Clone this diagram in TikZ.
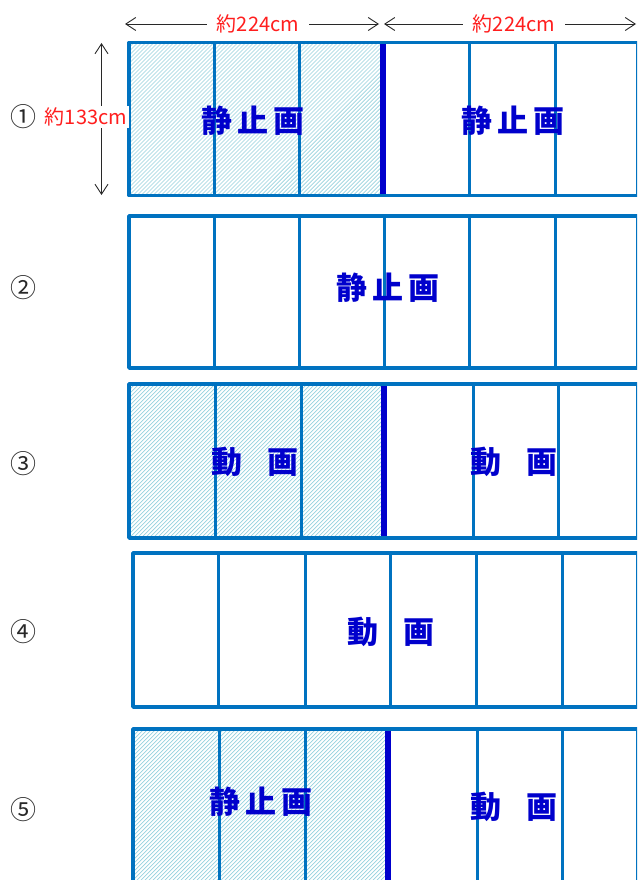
\documentclass[tikz,border=0pt]{standalone}
\usepackage{fontspec}
\newfontfamily\jp{Noto Sans CJK JP}
\usetikzlibrary{arrows.meta}
\definecolor{frame}{RGB}{0,114,192}
\definecolor{thickblue}{RGB}{0,0,204}
\definecolor{txtblue}{RGB}{0,0,204}
\definecolor{hatch}{RGB}{150,210,222}
\definecolor{dimred}{RGB}{255,30,30}
\definecolor{dimgray}{RGB}{40,40,40}
\newcommand\jstill{静\kern5pt 止\kern5pt 画}
\newcommand\jmovie{動\hspace{26pt}画}
\newcommand\hatchbox[4]{%
  \begin{scope}
  \clip (#1,#2) rectangle (#3,#4);
  \foreach \d in {0,4,...,560} \draw[hatchline] ({#1-300+\d},#4) -- ++(300,-300);
  \end{scope}}
\tikzset{
 frameline/.style={draw=frame, line width=3.5pt, line join=round},
 divline/.style={draw=frame, line width=3pt},
 seam/.style={draw=thickblue, line width=6.5pt},
 hatchline/.style={draw=hatch, line width=0.7pt},
 bigtext/.style={text=txtblue, font=\jp\bfseries\fontsize{31}{31}\selectfont, inner sep=0pt},
 dimtext/.style={text=dimred, font=\jp\fontsize{20}{20}\selectfont, fill=white, inner sep=2pt},
 numtext/.style={text=dimgray, font=\jp\fontsize{26}{26}\selectfont, inner sep=0pt},
 dimarrow/.style={draw=dimgray, line width=0.9pt, {Straight Barb[length=10pt,width=13pt]}-{Straight Barb[length=10pt,width=13pt]}},
}
\begin{document}
\begin{tikzpicture}[x=1pt,y=-1pt]
\useasboundingbox (0,0) rectangle (637,880);
\fill[white] (0,0) rectangle (637,880);
\begin{scope}
\clip (0,0) rectangle (637,880);
% Row 1
\hatchbox{129}{42.5}{383}{195.5}
\foreach \x in {214,299,469,555} \draw[divline] (\x,42.5) -- (\x,195.5);
\draw[seam] (383,44) -- (383,194);
\draw[frameline] (129,42.5) rectangle (638,195.5);
% Row 2
\foreach \x in {214,299,384,469,555} \draw[divline] (\x,216) -- (\x,368);
\draw[frameline] (129,216) rectangle (638,368);
% Row 3
\hatchbox{129}{384}{384}{538}
\foreach \x in {215,301,473,558} \draw[divline] (\x,384) -- (\x,538);
\draw[seam] (384,385.5) -- (384,536.5);
\draw[frameline] (129,384) rectangle (638,538);
% Row 4
\foreach \x in {218,305,390,476,562} \draw[divline] (\x,553) -- (\x,707);
\draw[frameline] (133,553) rectangle (638,707);
% Row 5
\hatchbox{133}{729}{388}{900}
\foreach \x in {219,305,477,562} \draw[divline] (\x,729) -- (\x,900);
\draw[seam] (388,730.5) -- (388,900);
\draw[frameline] (133,729) rectangle (638,900);
\end{scope}
% texts
\node[bigtext] (t1a) at (253,121) {\jstill};
\node[bigtext] (t1b) at (513,121) {\jstill};
\node[bigtext] (t2) at (388,288) {\jstill};
\node[bigtext] (t3a) at (255,462) {\jmovie};
\node[bigtext] (t3b) at (514,462) {\jmovie};
\node[bigtext] (t4) at (391,632) {\jmovie};
\node[bigtext] (t5a) at (261,802) {\jstill};
\node[bigtext] (t5b) at (514,807) {\jmovie};
% numbers
\node[numtext] (n1) at (23,117) {①};
\node[numtext] (n2) at (23,288) {②};
\node[numtext] (n3) at (23,464) {③};
\node[numtext] (n4) at (23,632) {④};
\node[numtext] (n5) at (23,810) {⑤};
% dimension arrows
\coordinate (h1l) at (125,24);
\coordinate (h1r) at (379,24);
\coordinate (h2l) at (384,24);
\coordinate (h2r) at (636,24);
\coordinate (vt) at (101.5,43);
\coordinate (vb) at (101.5,195);
\draw[dimarrow] (h1l) -- (h1r);
\draw[dimarrow] (h2l) -- (h2r);
\draw[dimarrow] (vt) -- (vb);
\node[dimtext, inner xsep=10pt] (w1) at (258,24) {約224cm};
\node[dimtext, inner xsep=10pt] (w2) at (514,24) {約224cm};
\node[dimtext] (hgt) at (86,117) {約133cm};
\end{tikzpicture}
\end{document}
